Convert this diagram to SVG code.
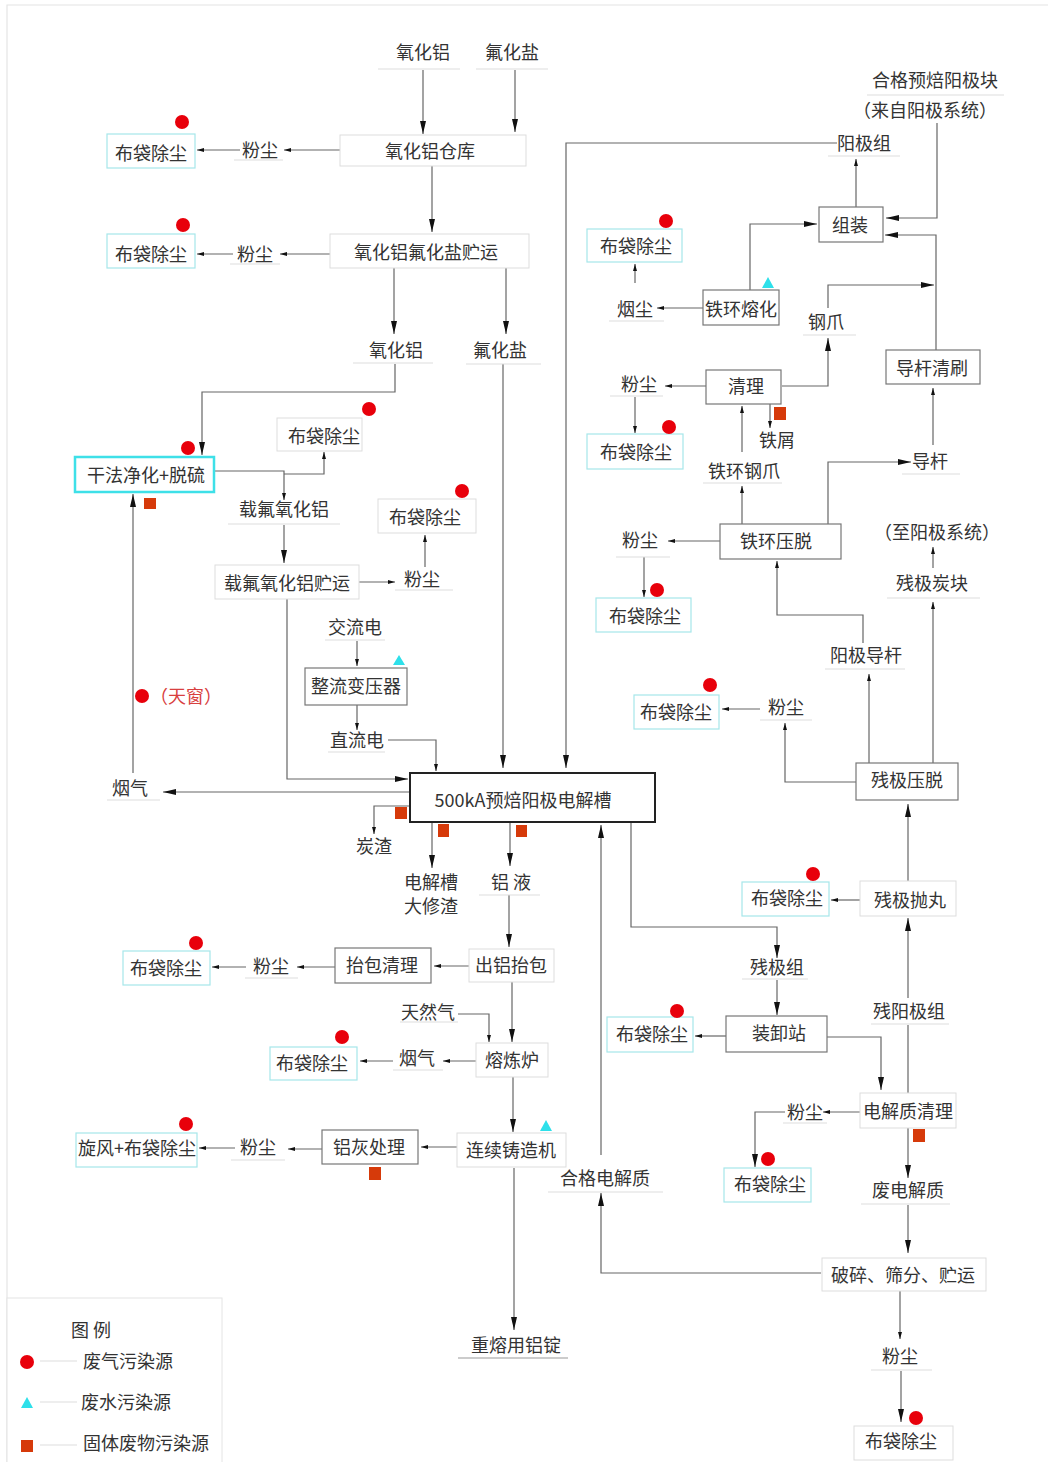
<svg xmlns="http://www.w3.org/2000/svg" width="1048" height="1462" viewBox="0 0 1048 1462">
<style>
text{font-family:"Noto Sans CJK SC","Liberation Serif",sans-serif;font-size:18px;fill:#333;text-anchor:middle;dominant-baseline:central}
.bl{fill:#fff;stroke:#ddd;stroke-width:1}
.bd{fill:#fff;stroke:#777;stroke-width:1.2}
.bc{fill:#fff;stroke:#a6e6ea;stroke-width:1.2}
.ul{stroke:#ddd;stroke-width:1}
.c{fill:none;stroke:#666;stroke-width:1.2}
.cb{marker-end:url(#ab)}
.cs{marker-end:url(#as)}
.dot{fill:#e8000b}
.sq{fill:#d63a0a}
.tri{fill:#2ee0ea}
</style>
<defs>
<marker id="ab" markerWidth="14" markerHeight="8" refX="13" refY="4" orient="auto" markerUnits="userSpaceOnUse"><path d="M0,1 L13,4 L0,7 z" fill="#111"/></marker>
<marker id="as" markerWidth="8" markerHeight="6" refX="7" refY="3" orient="auto" markerUnits="userSpaceOnUse"><path d="M0,1 L7,3 L0,5 z" fill="#111"/></marker>
</defs>
<rect width="1048" height="1462" fill="#fff"/>
<path d="M7,1462 V5 H1048" fill="none" stroke="#e4e4e4" stroke-width="1.2"/>

<g id="connectors">
<path class="c cb" d="M423,70 V134"/>
<path class="c cb" d="M515,70 V132"/>
<path class="c cb" d="M432,166 V232"/>
<path class="c cb" d="M394,268 V334"/>
<path class="c cb" d="M506,268 V334"/>
<path class="c cs" d="M340,150 H284"/>
<path class="c cs" d="M240,150 H197"/>
<path class="c cs" d="M330,254 H280"/>
<path class="c cs" d="M233,254 H197"/>
<path class="c cb" d="M937,123 V218 H886"/>
<path class="c cb" d="M936,350 V235 H885"/>
<path class="c cb" d="M750,290 V224 H817"/>
<path class="c cs" d="M856,207 V159"/>
<path class="c cb" d="M837,143 H566 V768"/>
<path class="c cb" d="M503,364 V768"/>
<path class="c cb" d="M395,364 V392 H202 V455"/>
<path class="c cs" d="M214,471 H284 V500"/>
<path class="c cs" d="M284,474 H324 V452"/>
<path class="c cb" d="M284,525 V563"/>
<path class="c cs" d="M359,582 H395"/>
<path class="c cs" d="M425,567 V535"/>
<path class="c cb" d="M287,599 V779 H408"/>
<path class="c cs" d="M357,641 V666"/>
<path class="c cs" d="M357,705 V730"/>
<path class="c cs" d="M388,740 H436 V771"/>
<path class="c cb" d="M410,792 H163"/>
<path class="c cb" d="M133,773 V494"/>
<path class="c cs" d="M410,806 H374 V834"/>
<path class="c cb" d="M432,822 V868"/>
<path class="c cb" d="M510,822 V866"/>
<path class="c cb" d="M509,895 V947"/>
<path class="c cs" d="M469,966 H434"/>
<path class="c cs" d="M335,967 H297"/>
<path class="c cs" d="M246,967 H212"/>
<path class="c cb" d="M512,982 V1042"/>
<path class="c cs" d="M458,1014 H489 V1042"/>
<path class="c cs" d="M476,1061 H443"/>
<path class="c cs" d="M393,1061 H360"/>
<path class="c cb" d="M513,1077 V1132"/>
<path class="c cs" d="M457,1147 H421"/>
<path class="c cs" d="M322,1149 H288"/>
<path class="c cs" d="M235,1148 H199"/>
<path class="c cb" d="M514,1168 V1330"/>
<path class="c cb" d="M631,822 V927 H777 V958"/>
<path class="c cb" d="M777,980 V1015"/>
<path class="c cs" d="M726,1036 H695"/>
<path class="c cb" d="M827,1037 H881 V1090"/>
<path class="c" d="M908,1093 V1025"/>
<path class="c cb" d="M908,998 V918"/>
<path class="c cb" d="M908,881 V804"/>
<path class="c cs" d="M856,782 H785 V723"/>
<path class="c cs" d="M760,709 H722"/>
<path class="c cs" d="M869,763 V674"/>
<path class="c cs" d="M933,763 V602"/>
<path class="c cs" d="M933,568 V547"/>
<path class="c cs" d="M863,643 V615 H777 V561"/>
<path class="c cs" d="M742,524 V486"/>
<path class="c cs" d="M742,452 V406"/>
<path class="c cs" d="M770,404 V428"/>
<path class="c cb" d="M782,386 H828 V338"/>
<path class="c cb" d="M828,308 V285 H934"/>
<path class="c cb" d="M828,524 V462 H911"/>
<path class="c cs" d="M933,445 V388"/>
<path class="c cs" d="M706,386 H665"/>
<path class="c cs" d="M635,397 V433"/>
<path class="c cs" d="M703,308 H657"/>
<path class="c cs" d="M635,283 V264"/>
<path class="c cs" d="M720,541 H668"/>
<path class="c cs" d="M644,557 V597"/>
<path class="c cs" d="M860,1112 H823"/>
<path class="c cb" d="M785,1112 H755 V1167"/>
<path class="c cb" d="M908,1128 V1178"/>
<path class="c cb" d="M908,1205 V1253"/>
<path class="c cb" d="M821,1273 H601 V1193"/>
<path class="c cb" d="M601,1155 V825"/>
<path class="c cs" d="M900,1291 V1339"/>
<path class="c cb" d="M901,1371 V1422"/>
<path class="c cs" d="M860,900 H831"/>
</g>

<g id="n-cangku"><rect class="bl" x="340" y="135" width="186" height="31"/><text x="430" y="150">氧化铝仓库</text></g>
<g id="n-zhuyun"><rect class="bl" x="330" y="234" width="199" height="34"/><text x="426" y="251">氧化铝氟化盐贮运</text></g>
<g id="n-bd1"><rect class="bc" x="107" y="134" width="88" height="34"/><text x="151" y="152">布袋除尘</text><circle class="dot" cx="182" cy="122" r="7"/></g>
<g id="n-bd2"><rect class="bc" x="107" y="234" width="88" height="34"/><text x="151" y="253">布袋除尘</text><circle class="dot" cx="183" cy="225" r="7"/></g>
<g id="n-zuzhuang"><rect class="bd" x="819" y="207" width="64" height="35"/><text x="850" y="224">组装</text></g>
<g id="n-tiehuanronghua"><rect class="bd" x="703" y="290" width="76" height="35"/><text x="741" y="308">铁环熔化</text><polygon class="tri" points="768,277 762,288 774,288"/></g>
<g id="n-daoganqingshua"><rect class="bd" x="886" y="350" width="94" height="34"/><text x="932" y="367">导杆清刷</text></g>
<g id="n-qingli"><rect class="bd" x="706" y="370" width="75" height="34"/><text x="746" y="385">清理</text><rect class="sq" x="774" y="407" width="12" height="13"/></g>
<g id="n-tiehuanyatuo"><rect class="bd" x="720" y="524" width="121" height="35"/><text x="776" y="540">铁环压脱</text></g>
<g id="n-bd3"><rect class="bc" x="587" y="229" width="95" height="33"/><text x="636" y="245">布袋除尘</text><circle class="dot" cx="666" cy="221" r="7"/></g>
<g id="n-bd4"><rect class="bc" x="587" y="434" width="96" height="35"/><text x="636" y="451">布袋除尘</text><circle class="dot" cx="669" cy="427" r="7"/></g>
<g id="n-bd5"><rect class="bc" x="596" y="598" width="95" height="34"/><text x="645" y="615">布袋除尘</text><circle class="dot" cx="657" cy="590" r="7"/></g>
<g id="n-bd6"><rect class="bc" x="634" y="695" width="85" height="34"/><text x="676" y="711">布袋除尘</text><circle class="dot" cx="710" cy="685" r="7"/></g>
<g id="n-canjiyatuo"><rect class="bd" x="856" y="763" width="102" height="37"/><text x="907" y="779">残极压脱</text></g>
<g id="n-canjipaowan"><rect class="bl" x="860" y="881" width="96" height="35"/><text x="910" y="899">残极抛丸</text></g>
<g id="n-bd7"><rect class="bc" x="742" y="882" width="87" height="34"/><text x="787" y="897">布袋除尘</text><circle class="dot" cx="813" cy="874" r="7"/></g>
<g id="n-cell"><rect x="410" y="773" width="245" height="49" fill="#fff" stroke="#222" stroke-width="2"/><text x="523" y="799">500kA预焙阳极电解槽</text>
<rect class="sq" x="395" y="807" width="12" height="12"/><rect class="sq" x="438" y="824" width="11" height="13"/><rect class="sq" x="516" y="825" width="11" height="12"/></g>
<g id="n-zhuangxiezhan"><rect class="bd" x="726" y="1016" width="101" height="36"/><text x="779" y="1032">装卸站</text></g>
<g id="n-bd8"><rect class="bc" x="607" y="1017" width="86" height="35"/><text x="652" y="1033">布袋除尘</text><circle class="dot" cx="677" cy="1011" r="7"/></g>
<g id="n-dianjiezhiqingli"><rect class="bl" x="860" y="1093" width="96" height="35"/><text x="908" y="1110">电解质清理</text><rect class="sq" x="913" y="1129" width="12" height="13"/></g>
<g id="n-bd9"><rect class="bc" x="724" y="1168" width="87" height="34"/><text x="770" y="1183">布袋除尘</text><circle class="dot" cx="768" cy="1159" r="7"/></g>
<g id="n-posui"><rect class="bl" x="822" y="1258" width="164" height="33"/><text x="903" y="1274">破碎、筛分、贮运</text></g>
<g id="n-bd10"><rect class="bl" x="854" y="1426" width="99" height="34"/><text x="901" y="1440">布袋除尘</text><circle class="dot" cx="916" cy="1418" r="7"/></g>
<g id="n-ganfa"><rect x="75" y="457" width="139" height="35" fill="#fff" stroke="#3ee0e8" stroke-width="2.5"/><text x="146" y="474">干法净化+脱硫</text><circle class="dot" cx="188" cy="448" r="7"/><rect class="sq" x="144" y="498" width="12" height="11"/></g>
<g id="n-bd11"><rect class="bl" x="277" y="418" width="85" height="33"/><text x="324" y="435">布袋除尘</text><circle class="dot" cx="369" cy="409" r="7"/></g>
<g id="n-zaifuzhuyun"><rect class="bl" x="215" y="565" width="144" height="34"/><text x="287" y="582">载氟氧化铝贮运</text></g>
<g id="n-bd12"><rect class="bl" x="378" y="499" width="98" height="34"/><text x="425" y="516">布袋除尘</text><circle class="dot" cx="462" cy="491" r="7"/></g>
<g id="n-zhengliu"><rect class="bd" x="305" y="668" width="102" height="37"/><text x="356" y="685">整流变压器</text><polygon class="tri" points="399,655 393,665 405,665"/></g>
<g id="n-chulvtaibao"><rect class="bl" x="469" y="949" width="85" height="33"/><text x="511" y="964">出铝抬包</text></g>
<g id="n-taibaoqingli"><rect class="bd" x="335" y="948" width="96" height="35"/><text x="382" y="964">抬包清理</text></g>
<g id="n-bd13"><rect class="bc" x="123" y="951" width="87" height="34"/><text x="166" y="967">布袋除尘</text><circle class="dot" cx="196" cy="943" r="7"/></g>
<g id="n-ronglianlu"><rect class="bl" x="476" y="1043" width="72" height="34"/><text x="512" y="1059">熔炼炉</text></g>
<g id="n-bd14"><rect class="bc" x="270" y="1047" width="87" height="33"/><text x="312" y="1062">布袋除尘</text><circle class="dot" cx="342" cy="1037" r="7"/></g>
<g id="n-zhuzao"><rect class="bl" x="457" y="1133" width="109" height="34"/><text x="511" y="1149">连续铸造机</text><polygon class="tri" points="546,1120 540,1131 552,1131"/></g>
<g id="n-lvhui"><rect class="bd" x="322" y="1130" width="96" height="34"/><text x="369" y="1146">铝灰处理</text><rect class="sq" x="369" y="1167" width="12" height="13"/></g>
<g id="n-xuanfeng"><rect class="bc" x="76" y="1133" width="121" height="34"/><text x="137" y="1147">旋风+布袋除尘</text><circle class="dot" cx="186" cy="1124" r="7"/></g>

<g id="labels">
<text x="423" y="51">氧化铝</text><line class="ul" x1="378" y1="69" x2="460" y2="69"/>
<text x="512" y="51">氟化盐</text><line class="ul" x1="476" y1="69" x2="548" y2="69"/>
<text x="260" y="149">粉尘</text><line class="ul" x1="234" y1="160" x2="283" y2="160"/>
<text x="255" y="253">粉尘</text><line class="ul" x1="230" y1="264" x2="280" y2="264"/>
<text x="396" y="349">氧化铝</text><line class="ul" x1="353" y1="363" x2="433" y2="363"/>
<text x="500" y="349">氟化盐</text><line class="ul" x1="466" y1="364" x2="541" y2="364"/>
<text x="935" y="79">合格预焙阳极块</text><line class="ul" x1="867" y1="95" x2="1004" y2="95"/>
<text x="925" y="109">（来自阳极系统）</text>
<text x="864" y="142">阳极组</text><line class="ul" x1="828" y1="156" x2="900" y2="156"/>
<text x="826" y="321">钢爪</text><line class="ul" x1="803" y1="335" x2="856" y2="335"/>
<text x="635" y="308">烟尘</text><line class="ul" x1="609" y1="321" x2="664" y2="321"/>
<text x="639" y="383">粉尘</text><line class="ul" x1="610" y1="396" x2="663" y2="396"/>
<text x="777" y="439">铁屑</text>
<text x="744" y="470">铁环钢爪</text><line class="ul" x1="703" y1="483" x2="782" y2="483"/>
<text x="930" y="460">导杆</text><line class="ul" x1="902" y1="474" x2="960" y2="474"/>
<text x="640" y="539">粉尘</text><line class="ul" x1="616" y1="557" x2="670" y2="557"/>
<text x="937" y="531">（至阳极系统）</text>
<text x="932" y="582">残极炭块</text><line class="ul" x1="887" y1="598" x2="980" y2="598"/>
<text x="866" y="654">阳极导杆</text><line class="ul" x1="825" y1="669" x2="905" y2="669"/>
<text x="786" y="706">粉尘</text><line class="ul" x1="760" y1="720" x2="812" y2="720"/>
<text x="284" y="508">载氟氧化铝</text><line class="ul" x1="228" y1="524" x2="340" y2="524"/>
<text x="422" y="578">粉尘</text><line class="ul" x1="395" y1="590" x2="453" y2="590"/>
<text x="355" y="626">交流电</text><line class="ul" x1="325" y1="640" x2="385" y2="640"/>
<text x="357" y="739">直流电</text><line class="ul" x1="328" y1="752" x2="385" y2="752"/>
<circle class="dot" cx="142" cy="696" r="7"/><text x="150" y="695" style="text-anchor:start;fill:#d84040">（天窗）</text>
<text x="130" y="787">烟气</text><line class="ul" x1="107" y1="800" x2="160" y2="800"/>
<text x="374" y="845">炭渣</text>
<text x="431" y="881">电解槽</text><text x="431" y="905">大修渣</text>
<text x="511" y="881">铝 液</text><line class="ul" x1="479" y1="895" x2="540" y2="895"/>
<text x="777" y="966">残极组</text><line class="ul" x1="742" y1="979" x2="808" y2="979"/>
<text x="909" y="1010">残阳极组</text><line class="ul" x1="871" y1="1024" x2="949" y2="1024"/>
<text x="271" y="965">粉尘</text><line class="ul" x1="245" y1="978" x2="298" y2="978"/>
<text x="428" y="1011">天然气</text><line class="ul" x1="400" y1="1022" x2="458" y2="1022"/>
<text x="417" y="1057">烟气</text><line class="ul" x1="393" y1="1070" x2="443" y2="1070"/>
<text x="258" y="1146">粉尘</text><line class="ul" x1="231" y1="1160" x2="285" y2="1160"/>
<text x="605" y="1177">合格电解质</text><line class="ul" x1="548" y1="1192" x2="663" y2="1192"/>
<text x="516" y="1344">重熔用铝锭</text><line x1="458" y1="1358" x2="568" y2="1358" stroke="#999" stroke-width="1"/>
<text x="805" y="1111">粉尘</text><line class="ul" x1="783" y1="1123" x2="827" y2="1123"/>
<text x="908" y="1189">废电解质</text><line class="ul" x1="861" y1="1204" x2="950" y2="1204"/>
<text x="900" y="1355">粉尘</text><line class="ul" x1="871" y1="1370" x2="932" y2="1370"/>
</g>

<g id="legend">
<rect x="7" y="1298" width="215" height="170" fill="#fff" stroke="#e4e4e4" stroke-width="1"/>
<text x="91" y="1329">图  例</text>
<circle class="dot" cx="27" cy="1362" r="7"/><line class="ul" x1="40" y1="1361" x2="77" y2="1361"/><text x="83" y="1360" style="text-anchor:start">废气污染源</text>
<polygon class="tri" points="27,1397 21,1408 33,1408"/><line class="ul" x1="40" y1="1402" x2="77" y2="1402"/><text x="81" y="1401" style="text-anchor:start">废水污染源</text>
<rect class="sq" x="21" y="1440" width="12" height="12"/><line class="ul" x1="40" y1="1445" x2="77" y2="1445"/><text x="83" y="1442" style="text-anchor:start">固体废物污染源</text>
</g>
</svg>
